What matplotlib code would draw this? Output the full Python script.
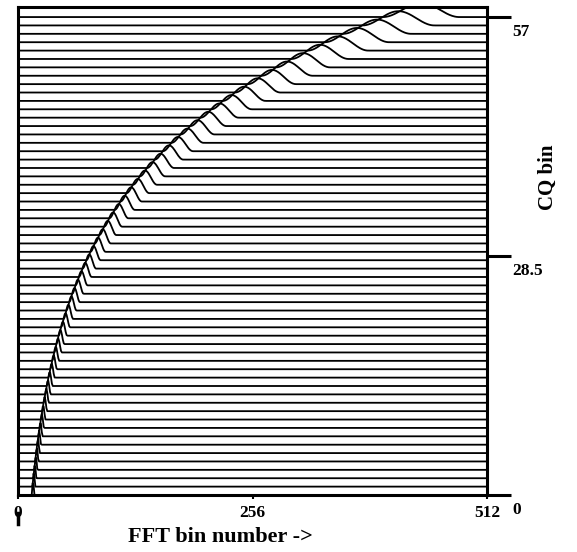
import numpy as np
import matplotlib.pyplot as plt
from matplotlib.transforms import ScaledTranslation

# centre of each constant-Q kernel, in FFT bins (one per semitone)
cq_bins = list(range(58))
centre_bins = [16.4, 17.3, 18.4, 19.5, 20.6, 21.8, 23.1, 24.5, 26.0, 27.5,
               29.1, 30.9, 32.7, 34.6, 36.7, 38.9, 41.2, 43.7, 46.2, 49.0,
               51.9, 55.0, 58.3, 61.7, 65.4, 69.3, 73.4, 77.8, 82.4, 87.3,
               92.5, 98.0, 103.8, 110.0, 116.5, 123.5, 130.8, 138.6, 146.8, 155.6,
               164.8, 174.6, 185.0, 196.0, 207.7, 220.0, 233.1, 246.9, 261.6, 277.2,
               293.7, 311.1, 329.6, 349.2, 370.0, 392.0, 415.3, 440.0]
x_ticks = [0, 256, 512]
y_ticks = [0, 28.5, 57]
y_ticklabels = ["0", "28.5", "57"]

bump_height = 1.7     # kernel peak, in rows
rel_width = 0.095     # half-width of main lobe relative to centre bin

fft_bins = np.arange(0, 513)

plt.rcParams['font.family'] = ['Liberation Serif', 'DejaVu Serif']

fig = plt.figure(figsize=(5.77, 5.52), dpi=100)
ax = fig.add_axes([18 / 577, 1 - 495 / 552, (487 - 18) / 577, (495 - 7) / 552])

# one row per CQ bin, kernel magnitude sampled at integer FFT bins
for k, fc in zip(cq_bins, centre_bins):
    w = rel_width * fc
    d = np.abs(fft_bins - fc)
    mag = np.where(d < w, np.cos(np.pi * d / (2 * w)) ** 2, 0.0)
    ax.plot(fft_bins, k + bump_height * mag, color="black", lw=1.3)

ax.set_xlim(0, 512)
ax.set_ylim(0, 58.2)

for side in ["left", "right", "top", "bottom"]:
    ax.spines[side].set_linewidth(2.2)

ax.set_xticks(x_ticks)
ax.set_xticklabels([str(t) for t in x_ticks], fontsize=12.5, fontweight="bold")
ax.tick_params(axis="x", direction="out", length=3, width=1.5, pad=4)

ax.yaxis.tick_right()
ax.set_yticks(y_ticks)
ax.set_yticklabels(y_ticklabels, fontsize=12.5, fontweight="bold")
ax.tick_params(axis="y", direction="out", length=17, width=2.2, pad=1)
shift = ScaledTranslation(0, -0.125, fig.dpi_scale_trans)
for lab in ax.get_yticklabels():
    lab.set_transform(lab.get_transform() + shift)

# stem under the "0" on the x axis
ax.plot([0, 0], [-2.1, -3.5], color="black", lw=2.5, clip_on=False)

fig.text(220 / 577, 1 - 537 / 552, "FFT bin number ->", ha="center", va="center",
         fontsize=16, fontweight="bold")
fig.text(548 / 577, 1 - 177 / 552, "CQ bin", ha="center", va="center",
         rotation=90, fontsize=15, fontweight="bold")

fig.savefig("out.png", dpi=100)
